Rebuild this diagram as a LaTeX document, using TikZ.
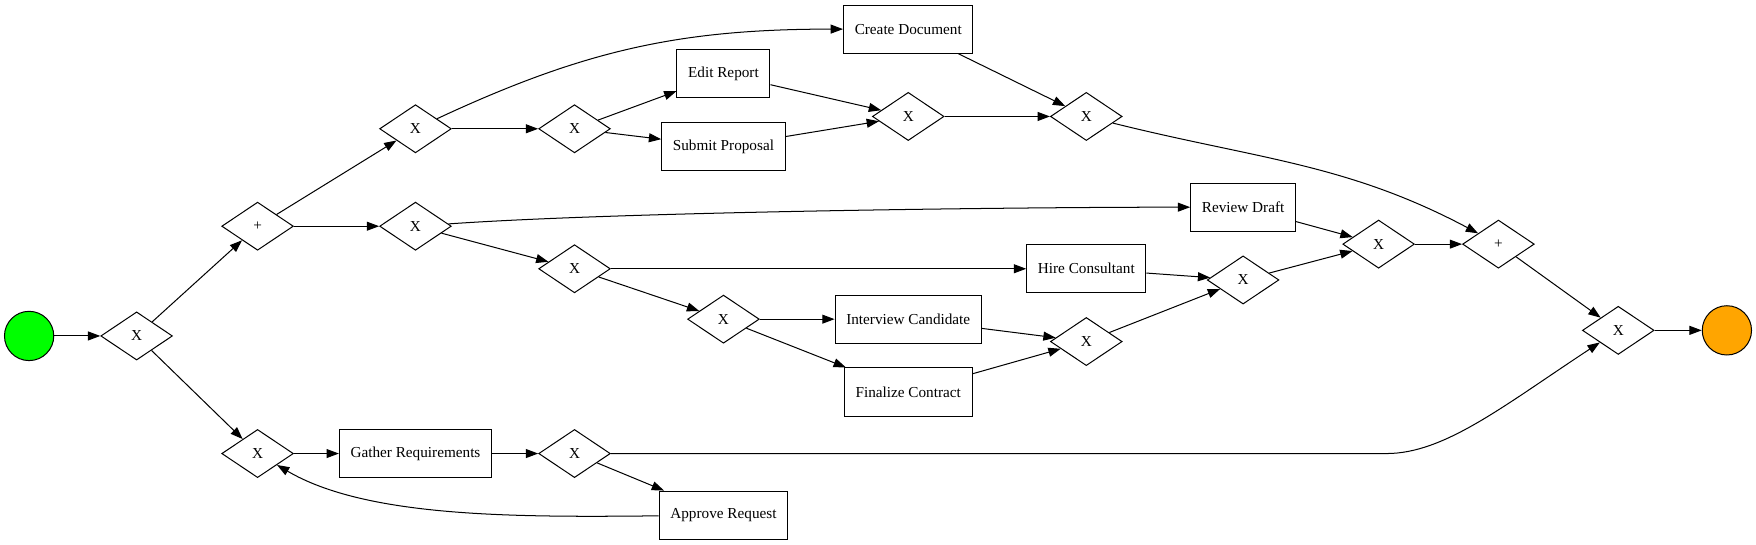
\documentclass[tikz,border=0pt]{standalone}
\usepackage{fontspec}
\setmainfont{Liberation Serif}
\usepackage{tikz}
\usetikzlibrary{arrows.meta,shapes,positioning}
\definecolor{endorange}{HTML}{FFA500}

\begin{document}
\begin{tikzpicture}[x = 1pt, y = 1pt,
  every node/.style = {font=\fontsize{13.6}{16}\selectfont},
  task/.style = {draw, rectangle, minimum height=43pt, inner xsep=10pt, line width=0.9pt},
  gate/.style = {draw, diamond, minimum width=64pt, minimum height=43pt, inner sep=0pt, line width=0.9pt},
  event/.style = {draw, circle, minimum size=44pt, line width=0.9pt},
  flow/.style = {-{Triangle[length=11pt, width=8pt]}, line width=0.9pt}]
\useasboundingbox (0,0) rectangle (1568,486);
\node[event, fill=green] (start) at (26,186) {};
\node[gate] (g1) at (122,186) {X};
\node[gate] (g2) at (230,284) {+};
\node[gate] (g3) at (230,81) {X};
\node[gate] (g4) at (371,371) {X};
\node[gate] (g5) at (371,284) {X};
\node[gate] (g6) at (513,371) {X};
\node[gate] (g7) at (513,246) {X};
\node[gate] (g8) at (646,201) {X};
\node[gate] (g9) at (513,81) {X};
\node[gate] (g10) at (811,382) {X};
\node[gate] (g11) at (970,382) {X};
\node[gate] (g12) at (970,181) {X};
\node[gate] (g13) at (1110,236) {X};
\node[gate] (g14) at (1231,268) {X};
\node[gate] (g15) at (1338,268) {+};
\node[gate] (g16) at (1445,191) {X};
\node[event, fill=endorange] (end) at (1542,191) {};
\node[task] (gather) at (371,81) {Gather Requirements};
\node[task] (approve) at (646,26) {Approve Request};
\node[task] (edit) at (646,420) {Edit Report};
\node[task] (submit) at (646,355) {Submit Proposal};
\node[task] (cdoc) at (811,460) {Create Document};
\node[task] (review) at (1110,301) {Review Draft};
\node[task] (hire) at (970,246) {Hire Consultant};
\node[task] (interview) at (811,201) {Interview Candidate};
\node[task] (finalize) at (811,136) {Finalize Contract};
\coordinate (bend) at (1238,81);
\draw[flow] (start) -- (g1);
\draw[flow] (g1) -- (g2);
\draw[flow] (g1) -- (g3);
\draw[flow] (g2) -- (g4);
\draw[flow] (g2) -- (g5);
\draw[flow] (g4) to[out=25, in=180] (cdoc);
\draw[flow] (g4) -- (g6);
\draw[flow] (g6) -- (edit);
\draw[flow] (g6) -- (submit);
\draw[flow] (edit) -- (g10);
\draw[flow] (submit) -- (g10);
\draw[flow] (g10) -- (g11);
\draw[flow] (cdoc) -- (g11);
\draw[flow] (g11) to[out=-14, in=152] (g15);
\draw[flow] (g5) to[out=4, in=180, looseness=0.6] (review);
\draw[flow] (g5) -- (g7);
\draw[flow] (g7) -- (hire);
\draw[flow] (g7) -- (g8);
\draw[flow] (g8) -- (interview);
\draw[flow] (g8) -- (finalize);
\draw[flow] (interview) -- (g12);
\draw[flow] (finalize) -- (g12);
\draw[flow] (hire) -- (g13);
\draw[flow] (g12) -- (g13);
\draw[flow] (review) -- (g14);
\draw[flow] (g13) -- (g14);
\draw[flow] (g14) -- (g15);
\draw[flow] (g15) -- (g16);
\draw[flow] (g3) -- (gather);
\draw[flow] (gather) -- (g9);
\draw[flow] (g9) -- (approve);
\draw[flow] (approve) .. controls (458,24) and (327,24) .. (g3);
\draw[flow] (g9) -- (bend) .. controls (1290,81) and (1343,124) .. (g16);
\draw[flow] (g16) -- (end);
\end{tikzpicture}
\end{document}
